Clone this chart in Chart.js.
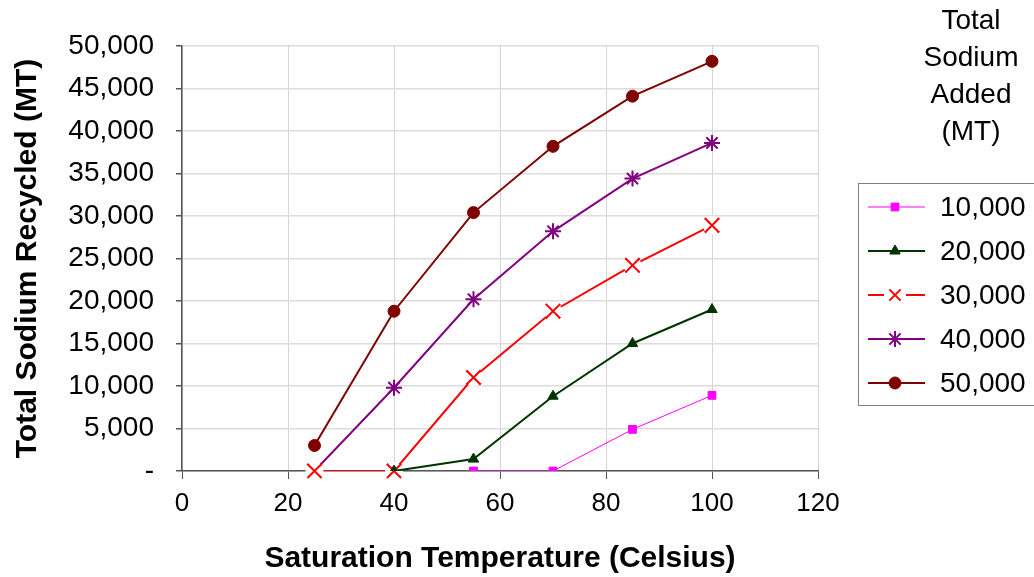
<!DOCTYPE html>
<html>
<head>
<meta charset="utf-8">
<script src="https://cdn.jsdelivr.net/npm/chart.js@4/dist/chart.umd.min.js"></script>
<style>
  html, body { margin: 0; padding: 0; background: #fff; }
  #wrap { width: 1034px; height: 577px; }
</style>
</head>
<body>
<div id="wrap"><canvas id="chart" width="1034" height="577"></canvas></div>
<script>
  // saturation temperature (Celsius)
  var temps = [25, 40, 55, 70, 85, 100];
  // total sodium recycled (MT) per amount of sodium added
  var added10k = [null, null, 0, 0, 4900, 8900];
  var added20k = [null, 0, 1400, 8800, 15000, 19000];
  var added30k = [0, 0, 11000, 18800, 24200, 28900];
  var added40k = [0, 9800, 20200, 28200, 34400, 38600];
  var added50k = [3000, 18800, 30400, 38200, 44100, 48200];
  var seriesLabels = ["10,000", "20,000", "30,000", "40,000", "50,000"];
  var legendTitle = ["Total", "Sodium", "Added", "(MT)"];

  var FONT = "'Liberation Sans', Arial, sans-serif";

  function toPoints(values) {
    return temps.map(function (t, i) { return { x: t, y: values[i] }; });
  }

  function makeSet(label, values, color, style, radius, width) {
    return {
      label: label,
      data: toPoints(values),
      borderColor: color,
      backgroundColor: color,
      borderWidth: width,
      pointStyle: style,
      pointRadius: radius,
      pointBorderColor: color,
      pointBackgroundColor: color,
      pointBorderWidth: style === "crossRot" || style === "star" ? 2 : 1,
      tension: 0,
      spanGaps: false
    };
  }

  var datasets = [
    makeSet(seriesLabels[0], added10k, "#ff00ff", "rect", 5.5, 1),
    makeSet(seriesLabels[1], added20k, "#003300", "triangle", 6, 2),
    makeSet(seriesLabels[2], added30k, "#ff0000", "crossRot", 10, 2),
    makeSet(seriesLabels[3], added40k, "#800080", "star", 8, 2),
    makeSet(seriesLabels[4], added50k, "#800000", "circle", 6, 2)
  ];

  // the X markers punch a small white gap into the line, as in the original
  var crossHalo = {
    id: "crossHalo",
    afterDatasetDraw: function (chart, args) {
      var ds = chart.data.datasets[args.index];
      if (ds.pointStyle !== "crossRot") return;
      var ctx = chart.ctx;
      ctx.save();
      args.meta.data.forEach(function (pt, i) {
        if (ds.data[i].y === null || pt.skip) return;
        ctx.fillStyle = "#fff";
        ctx.beginPath();
        ctx.arc(pt.x, pt.y, 9, 0, Math.PI * 2);
        ctx.fill();
        ctx.strokeStyle = ds.pointBorderColor;
        ctx.lineWidth = ds.pointBorderWidth;
        Chart.helpers.drawPoint(ctx, {
          pointStyle: "crossRot",
          radius: ds.pointRadius,
          borderWidth: ds.pointBorderWidth,
          rotation: 0
        }, pt.x, pt.y);
      });
      ctx.restore();
    }
  };

  // boxed legend with the title floating above it, like the spreadsheet one
  var boxLegend = {
    id: "boxLegend",
    afterDraw: function (chart) {
      var ctx = chart.ctx;
      ctx.save();
      ctx.fillStyle = "#000";
      ctx.font = "28px " + FONT;
      ctx.textAlign = "center";
      ctx.textBaseline = "middle";
      legendTitle.forEach(function (line, i) {
        ctx.fillText(line, 971, 21 + i * 37);
      });

      ctx.strokeStyle = "#808080";
      ctx.lineWidth = 1;
      ctx.strokeRect(858.5, 183.5, 180, 222);

      ctx.textAlign = "left";
      chart.data.datasets.forEach(function (ds, i) {
        var y = 207 + i * 44;
        ctx.strokeStyle = ds.borderColor;
        ctx.lineWidth = ds.borderWidth;
        ctx.beginPath();
        ctx.moveTo(868, y);
        ctx.lineTo(925, y);
        ctx.stroke();
        if (ds.pointStyle === "crossRot") {
          ctx.fillStyle = "#fff";
          ctx.fillRect(884, y - 3, 22, 6);
        }
        ctx.fillStyle = ds.pointBackgroundColor;
        ctx.strokeStyle = ds.pointBorderColor;
        ctx.lineWidth = ds.pointBorderWidth;
        Chart.helpers.drawPoint(ctx, {
          pointStyle: ds.pointStyle,
          radius: ds.pointStyle === "crossRot" ? 8 : ds.pointRadius,
          borderWidth: ds.pointBorderWidth,
          rotation: 0
        }, 895, y);
        ctx.fillStyle = "#000";
        ctx.font = "28px " + FONT;
        ctx.fillText(ds.label, 940, y + 1);
      });
      ctx.restore();
    }
  };

  new Chart(document.getElementById("chart").getContext("2d"), {
    type: "line",
    data: { datasets: datasets },
    plugins: [crossHalo, boxLegend],
    options: {
      responsive: false,
      animation: false,
      layout: { padding: { top: 46, right: 216, bottom: 0, left: 0 } },
      plugins: {
        legend: { display: false },
        tooltip: { enabled: false }
      },
      scales: {
        x: {
          type: "linear",
          min: 0,
          max: 120,
          afterFit: function (scale) { scale.height = 106; },
          ticks: {
            stepSize: 20,
            color: "#000",
            padding: 9,
            font: { family: FONT, size: 26 }
          },
          grid: { color: "#d4d4d4", lineWidth: 1, tickLength: 8, tickColor: "#555" },
          border: { color: "#555", width: 1.5 },
          title: {
            display: true,
            text: "Saturation Temperature (Celsius)",
            color: "#000",
            padding: { top: 1, bottom: 0 },
            font: { family: FONT, size: 30, weight: "bold" }
          }
        },
        y: {
          min: 0,
          max: 50000,
          afterFit: function (scale) { scale.width = 182; },
          ticks: {
            stepSize: 5000,
            color: "#000",
            padding: 22,
            font: { family: FONT, size: 28 },
            callback: function (v) { return v === 0 ? "-" : v.toLocaleString("en-US"); }
          },
          grid: { color: "#dcdcdc", lineWidth: 1.5, tickLength: 6, tickColor: "#555" },
          border: { color: "#555", width: 1.5 },
          title: {
            display: true,
            text: "Total Sodium Recycled (MT)",
            color: "#000",
            padding: { top: 10, bottom: 0 },
            font: { family: FONT, size: 30, weight: "bold" }
          }
        }
      }
    }
  });
</script>
</body>
</html>
